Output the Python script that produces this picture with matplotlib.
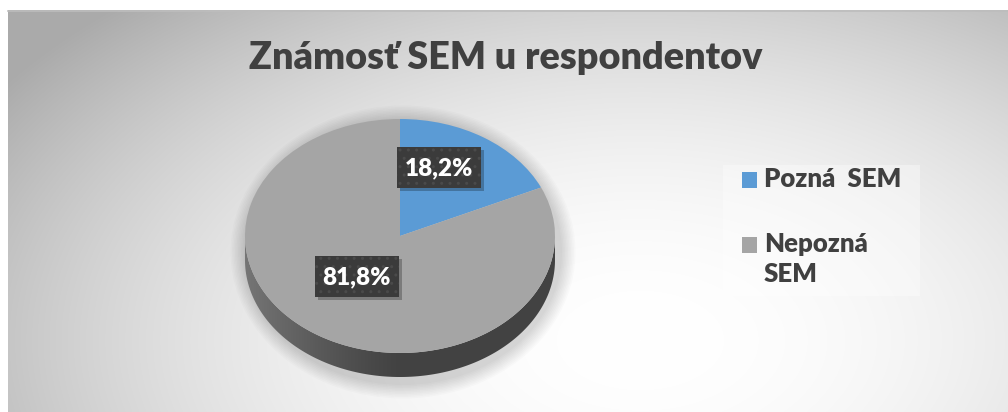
import numpy as np
import matplotlib.pyplot as plt
from matplotlib.patches import Polygon, Rectangle, Ellipse

plt.rcParams['font.family'] = ['Lato', 'DejaVu Sans']

# data
labels = ['Pozná  SEM', 'Nepozná\nSEM']
values = [18.2, 81.8]
colors = ['#5b9bd5', '#a5a5a5']
title = 'Známosť SEM u respondentov'

W, H = 1008, 412
fig = plt.figure(figsize=(W / 100, H / 100), dpi=100, facecolor='white')
bg = fig.add_axes([0, 0, 1, 1])
bg.set_xlim(0, W)
bg.set_ylim(H, 0)
bg.axis('off')

# radial grey background
px0, py0 = 8, 10
yy, xx = np.mgrid[py0:H, px0:W]
r = np.sqrt(((xx - 640) / 640) ** 2 + ((yy - 340) / 380) ** 2)
shade = 1 - 0.23 * np.clip(r, 0, 1.2) ** 2.0
bg.imshow(np.dstack([shade] * 3), extent=(px0, W, H, py0), aspect='auto', zorder=0)
bg.plot([px0, W], [py0 + 0.5, py0 + 0.5], color='#bdbdbd', lw=1.2, zorder=1)

# soft shadow around the pie
for k in range(10):
    bg.add_patch(Ellipse((403, 252), 318 + 3 * k, 266 + 3 * k, color='black',
                         alpha=0.014, lw=0, zorder=1))

bg.text(506, 58, title, ha='center', va='center', fontsize=27.2,
        fontweight='heavy', color='#404040', zorder=3)

# pie (elliptical: auto aspect)
cx, cy, a, b, depth = 400, 236, 155, 117, 24
d = depth / b
left, right = cx - a, cx + a
top, bottom = cy - b, cy + b + depth
pa = fig.add_axes([left / W, (H - bottom) / H, (right - left) / W, (bottom - top) / H])
pa.patch.set_alpha(0)
wedges, _ = pa.pie(values, colors=colors, startangle=90, counterclock=False,
                   radius=1, wedgeprops=dict(linewidth=0, zorder=3))
pa.set_aspect('auto')
pa.set_xlim(-1, 1)
pa.set_ylim(-1 - d, 1)
pa.axis('off')

t = np.linspace(np.pi, 2 * np.pi, 300)
side = np.vstack([np.column_stack([np.cos(t), np.sin(t)]),
                  np.column_stack([np.cos(t[::-1]), np.sin(t[::-1]) - d])])
poly = Polygon(side, closed=True, facecolor='none', lw=0)
pa.add_patch(poly)
gx = np.linspace(0, 1, 300)
grad = 0.26 + 0.2 * np.clip(1 - gx / 0.5, 0, 1) ** 1.2
im = pa.imshow(np.dstack([np.tile(grad, (10, 1))] * 3), extent=(-1, 1, -1 - d, 0),
               aspect='auto', zorder=2)
im.set_clip_path(poly)

# overlay for labels and legend
ov = fig.add_axes([0, 0, 1, 1])
ov.set_xlim(0, W)
ov.set_ylim(H, 0)
ov.axis('off')

# data labels
plt.rcParams['hatch.linewidth'] = 1.0
for val, (bx, by) in zip(values, [(439, 167.5), (356.5, 276.5)]):
    ov.add_patch(Rectangle((bx - 42 + 3, by - 20.5 + 3), 84, 41, color='black',
                           alpha=0.25, lw=0, zorder=4))
    ov.add_patch(Rectangle((bx - 42, by - 20.5), 84, 41, facecolor='#3b3b3b',
                           edgecolor='#4a4a4a', hatch='..', lw=0, zorder=5))
    ov.text(bx, by + 1, f'{val:.1f}%'.replace('.', ','), ha='center', va='center',
            fontsize=17.5, fontweight='heavy', color='white', zorder=6)

# legend
ov.add_patch(Rectangle((723, 165), 197, 131, facecolor='white', alpha=0.35,
                       lw=0, zorder=2))
for lab, col, ly in zip(labels, colors, [180, 245]):
    ov.add_patch(Rectangle((742, ly - 8), 15, 16, facecolor=col, lw=0, zorder=3))
    ov.text(764, ly - 13, lab, ha='left', va='top', fontsize=18.5,
            fontweight='heavy', color='#404040', linespacing=1.3, zorder=3)

fig.savefig('out.png', dpi=100)
